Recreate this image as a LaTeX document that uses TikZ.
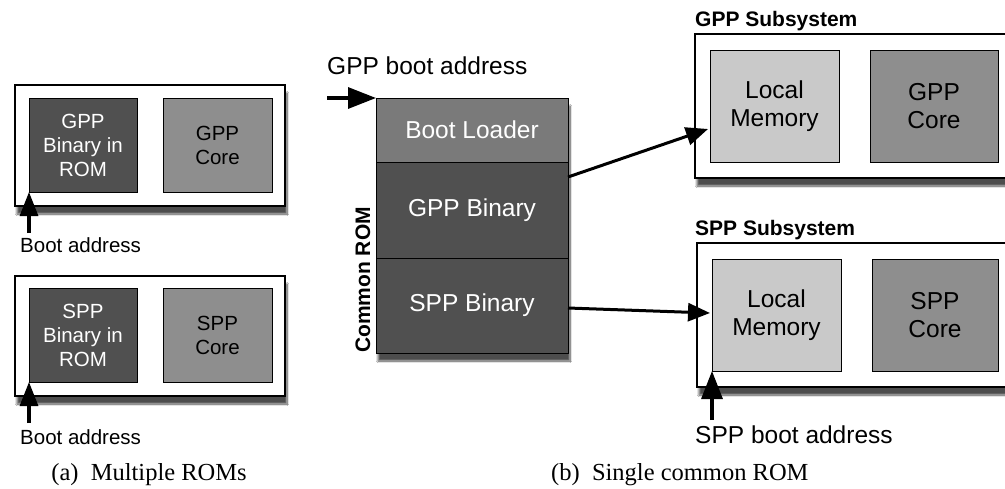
\documentclass[tikz,border=0pt]{standalone}
\usepackage{fontspec}
\setsansfont{Liberation Sans}
\newfontfamily\capfont{Liberation Serif}
\usetikzlibrary{positioning,calc,arrows.meta,shadows.blur}

\definecolor{romdark}{HTML}{505050}
\definecolor{romboot}{HTML}{7A7A7A}
\definecolor{coregray}{HTML}{8E8E8E}
\definecolor{memlight}{HTML}{C9C9C9}

\newcommand{\smallsf}{\sffamily\fontsize{20.5}{24}\selectfont}
\newcommand{\bigsf}{\sffamily\fontsize{24.5}{28}\selectfont}
\newcommand{\boldsf}{\sffamily\bfseries\fontsize{21}{24}\selectfont}

\tikzset{
  boxshadow/.style={blur shadow={shadow xshift=2pt, shadow yshift=-8pt, shadow blur steps=12, shadow opacity=70}},
  outerbox/.style={draw, line width=1.4pt, fill=white, boxshadow},
  block/.style={draw, line width=1pt, rectangle, inner sep=0pt, outer sep=0pt, align=center},
  rombin/.style={block, fill=romdark, text=white, minimum width=108pt, minimum height=94pt, font=\smallsf},
  corebox/.style={block, fill=coregray, minimum height=94pt, font=\smallsf},
  memblock/.style={block, fill=memlight, minimum width=129pt, minimum height=112pt, font=\bigsf},
  romblock/.style={block, fill=romdark, text=white, minimum width=192pt, font=\bigsf},
  bootarrow/.style={line width=3.2pt, -{Triangle[length=24pt 0,width=18pt 0,fill=black]}},
  bigboot/.style={line width=3.2pt, -{Triangle[length=28pt 0,width=21pt 0,fill=black]}},
  linkarrow/.style={line width=3pt, -{Triangle[length=22pt 0,width=18pt 0,fill=black]}},
  caption/.style={font=\capfont\fontsize{24.5}{28}\selectfont}
}

\begin{document}
\begin{tikzpicture}[x=1pt,y=-1pt]
    \useasboundingbox (0,0) rectangle (1005,488);
    \fill[white] (0,0) rectangle (1005,488);
    \clip (0,0) rectangle (1005,488);

    % (a) one ROM per processor
    \path[outerbox] (15,85) rectangle (285,206);
    \node[rombin] (gppbin) at (83,145) {GPP\\Binary in\\ROM};
    \node[corebox, minimum width=109pt] (gppcore) at (217.5,145) {GPP\\Core};
    \coordinate (bootA) at (29,233);
    \draw[bootarrow] (bootA) -- (gppbin.south west);
    \node[anchor=west, inner sep=0pt, font=\smallsf] (bootlblA) at (20,245) {Boot address};

    \path[outerbox] (15,276) rectangle (285,396);
    \node[rombin] (sppbin) at (83,335) {SPP\\Binary in\\ROM};
    \node[corebox, minimum width=109pt] (sppcore) at (217.5,335) {SPP\\Core};
    \coordinate (bootB) at (29,423);
    \draw[bootarrow] (bootB) -- (sppbin.south west);
    \node[anchor=west, inner sep=0pt, font=\smallsf] (bootlblB) at (20,437) {Boot address};

    \node[caption] (capa) at (149,475) {(a)\enspace Multiple ROMs};

    % (b) common ROM
    \path[boxshadow] (376,98) rectangle (568,353);
    \node[romblock, fill=romboot, minimum height=64pt] (bootldr) at (472,130) {Boot Loader};
    \node[romblock, minimum height=96pt, below=0pt of bootldr] (rombin) {GPP Binary};
    \node[romblock, minimum height=95pt, below=0pt of rombin] (romspp) {SPP Binary};
    \node[rotate=90, font=\boldsf, inner sep=0pt] (romlbl) at (363,280) {Common ROM};

    \node[anchor=west, inner sep=0pt, font=\bigsf] (gppbootlbl) at (327,66) {GPP boot address};
    \coordinate (gppboot) at (327,98);
    \draw[bigboot] (gppboot) -- (bootldr.north west);

    % subsystems
    \node[anchor=west, inner sep=0pt, font=\boldsf] (gppsublbl) at (695,21) {GPP Subsystem};
    \path[outerbox] (695,34) rectangle (1020,178);
    \node[memblock] (gppmem) at (774.5,106) {Local\\Memory};
    \node[corebox, minimum width=128pt, minimum height=112pt, font=\bigsf] (gppcoreb) at (934,106) {GPP\\Core};

    \node[anchor=west, inner sep=0pt, font=\boldsf] (sppsublbl) at (695,230) {SPP Subsystem};
    \path[outerbox] (697,243) rectangle (1020,387);
    \node[memblock] (sppmem) at (776.5,315) {Local\\Memory};
    \node[corebox, minimum width=126pt, minimum height=112pt, font=\bigsf] (sppcoreb) at (935,315) {SPP\\Core};

    \draw[linkarrow] ($(rombin.east)+(0,-33)$) -- ($(gppmem.west)+(-2,23)$);
    \draw[linkarrow] ($(romspp.east)+(0,2.5)$) -- ($(sppmem.west)+(-2,-2)$);

    \coordinate (sppboot) at (712,420);
    \draw[bigboot] (sppboot) -- (sppmem.south west);
    \node[anchor=west, inner sep=0pt, font=\bigsf] (sppbootlbl) at (695,435) {SPP boot address};

    \node[caption, anchor=east] (capb) at (812,475) {(b)\enspace Single common ROM};
\end{tikzpicture}
\end{document}
